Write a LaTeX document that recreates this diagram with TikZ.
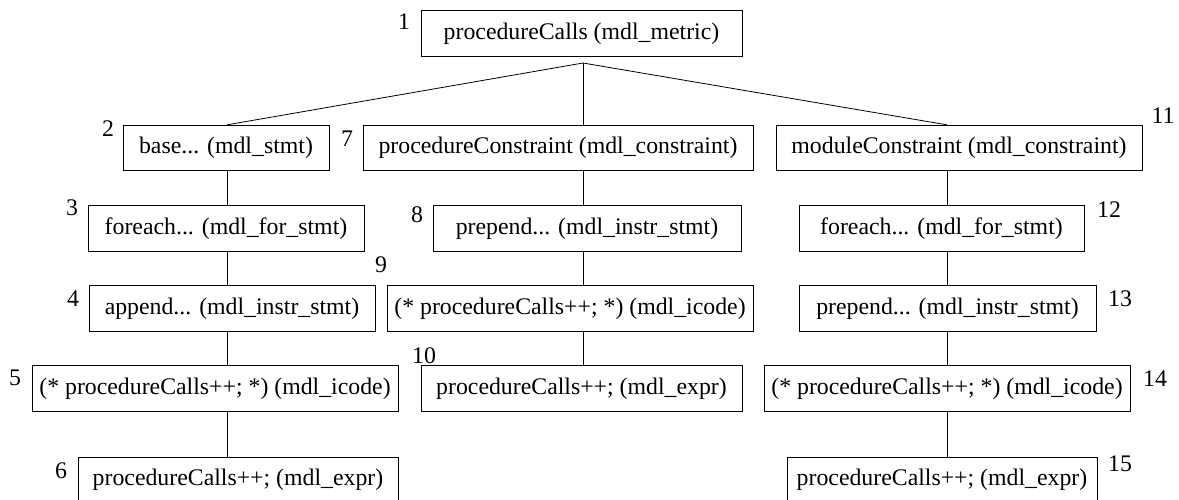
\documentclass[tikz,border=0pt]{standalone}
\usepackage{fontspec}
\setmainfont{Liberation Serif}
\newfontfamily\treefont{Liberation Serif}
\tikzset{
  box/.style={draw, line width=0.8pt, inner sep=0pt, minimum height=45.5pt,
    font=\treefont\fontsize{23.8}{28}\selectfont},
  num/.style={inner sep=0pt, font=\treefont\fontsize{23.8}{28}\selectfont}
}
\begin{document}
\begin{tikzpicture}[x=1pt, y=-1pt, line width=0.8pt]
  % page
  \useasboundingbox (0,0) rectangle (1179,499);
  % coordinates
  \coordinate (fork) at (583,63); % where the root lines split
  \coordinate (colA) at (227,0);
  \coordinate (colB) at (583,0);
  \coordinate (colC) at (947,0);
  % root
  \node[box, minimum width=321pt] (n1) at (581.5,33.5) {procedureCalls (mdl\_metric)};
  % left column
  \node[box, minimum width=206pt] (n2) at (226,148) {base... (mdl\_stmt)};
  \node[box, minimum width=276pt] (n3) at (226,228.5) {foreach... (mdl\_for\_stmt)};
  \node[box, minimum width=286pt] (n4) at (232,308.5) {append... (mdl\_instr\_stmt)};
  \node[box, minimum width=366pt] (n5) at (215,388.5) {(* procedureCalls++; *) (mdl\_icode)};
  \node[box, minimum width=320pt] (n6) at (238,480) {procedureCalls++; (mdl\_expr)};
  % middle column
  \node[box, minimum width=390pt] (n7) at (558,148) {procedureConstraint (mdl\_constraint)};
  \node[box, minimum width=308pt] (n8) at (587,228.5) {prepend... (mdl\_instr\_stmt)};
  \node[box, minimum width=366pt] (n9) at (570,308.5) {(* procedureCalls++; *) (mdl\_icode)};
  \node[box, minimum width=321pt] (n10) at (581.5,388.5) {procedureCalls++; (mdl\_expr)};
  % right column
  \node[box, minimum width=366pt] (n11) at (959,148) {moduleConstraint (mdl\_constraint)};
  \node[box, minimum width=285pt] (n12) at (941.5,228.5) {foreach... (mdl\_for\_stmt)};
  \node[box, minimum width=297pt] (n13) at (947.5,308.5) {prepend... (mdl\_instr\_stmt)};
  \node[box, minimum width=366pt] (n14) at (947,388.5) {(* procedureCalls++; *) (mdl\_icode)};
  \node[box, minimum width=310pt] (n15) at (942,480) {procedureCalls++; (mdl\_expr)};
  % numbers
  \node[num] (l1) at (404,22) {1};
  \node[num] (l2) at (108,129) {2};
  \node[num] (l3) at (72,208) {3};
  \node[num] (l4) at (73,299) {4};
  \node[num] (l5) at (15,378) {5};
  \node[num] (l6) at (61,471) {6};
  \node[num] (l7) at (347,139) {7};
  \node[num] (l8) at (417,215) {8};
  \node[num] (l9) at (381,265) {9};
  \node[num] (l10) at (424,356) {10};
  \node[num] (l11) at (1163,116) {11};
  \node[num] (l12) at (1109,210) {12};
  \node[num] (l13) at (1120,299) {13};
  \node[num] (l14) at (1155,379) {14};
  \node[num] (l15) at (1120,464) {15};
  % lines from the root
  \draw (fork) -- (n2.north -| colA);
  \draw (fork) -- (n7.north -| colB);
  \draw (fork) -- (n11.north -| colC);
  % lines down the columns
  \foreach \a/\b in {n2/n3, n3/n4, n4/n5, n5/n6}
    \draw (\a.south -| colA) -- (\b.north -| colA);
  \foreach \a/\b in {n7/n8, n8/n9, n9/n10}
    \draw (\a.south -| colB) -- (\b.north -| colB);
  \foreach \a/\b in {n11/n12, n12/n13, n13/n14, n14/n15}
    \draw (\a.south -| colC) -- (\b.north -| colC);
\end{tikzpicture}
\end{document}
